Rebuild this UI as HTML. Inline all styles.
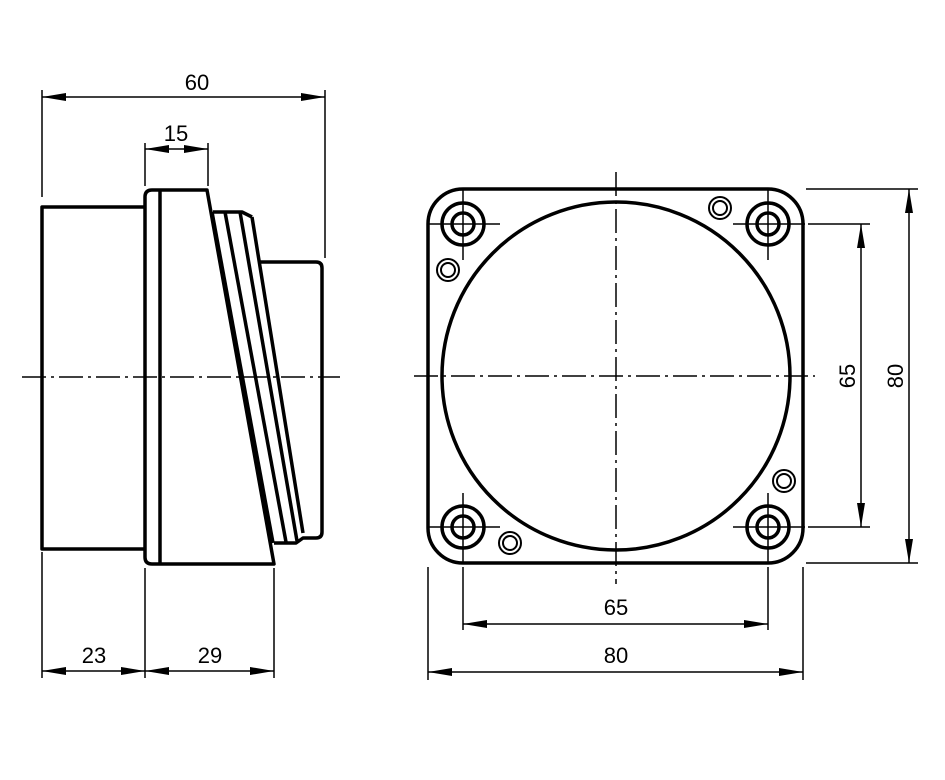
<!DOCTYPE html>
<html><head><style>body{margin:0;background:#fff}svg{display:block}text{font-family:"Liberation Sans",sans-serif;font-size:22px;fill:#000}</style></head>
<body>
<svg width="945" height="780" viewBox="0 0 945 780" xmlns="http://www.w3.org/2000/svg">
<defs>
<marker id="a" viewBox="0 0 24 8" refX="24" refY="4" markerWidth="24" markerHeight="8" markerUnits="userSpaceOnUse" orient="auto-start-reverse"><path d="M0,0 L24,4 L0,8 Z"/></marker>
</defs>
<g fill="none" stroke="#000">
<!-- centerlines -->
<g stroke-width="1.5" stroke-dasharray="24,5,3,5">
<line x1="22" y1="377" x2="340" y2="377"/>
<line x1="414" y1="376" x2="815" y2="376"/>
<line x1="616" y1="172" x2="616" y2="584"/>
</g>
<!-- left view -->
<g stroke-width="3.5" stroke-linejoin="round">
<path d="M145,207 H42 V549 H145"/>
<path d="M160,190 H152 Q145,190 145,197 V557 Q145,564 152,564 H160"/>
<line x1="160" y1="190" x2="160" y2="564"/>
<path d="M160,190 H207 L274,564 H160"/>
<path d="M213,212 H242 L252,217"/>
<line x1="212" y1="212" x2="273" y2="543"/>
<line x1="225" y1="212" x2="286" y2="542"/>
<line x1="240" y1="212" x2="297" y2="541"/>
<line x1="252" y1="217" x2="303" y2="533"/>
<path d="M274,543 H296 L303,538 H316 Q322,538 322,532 V268 Q322,262 316,262 H260"/>
</g>
<!-- right view -->
<g stroke-width="3.5">
<rect x="428" y="189" width="375" height="374" rx="35"/>
<circle cx="616" cy="376" r="174"/>
</g>
<g id="h" stroke-width="3.5">
<circle cx="463" cy="224" r="21"/>
<circle cx="463" cy="224" r="11"/>
<path d="M428,224 H500 M463,190 V260" stroke-width="1.5"/>
</g>
<use href="#h" transform="translate(305,0)"/>
<use href="#h" transform="translate(0,303)"/>
<use href="#h" transform="translate(305,303)"/>
<g stroke-width="2">
<circle cx="720" cy="208" r="11"/><circle cx="720" cy="208" r="7"/>
<circle cx="448" cy="270" r="11"/><circle cx="448" cy="270" r="7"/>
<circle cx="784" cy="481" r="11"/><circle cx="784" cy="481" r="7"/>
<circle cx="510" cy="543" r="11"/><circle cx="510" cy="543" r="7"/>
</g>
<!-- extension lines -->
<g stroke-width="1.5">
<line x1="42" y1="90" x2="42" y2="197"/>
<line x1="325" y1="90" x2="325" y2="258"/>
<line x1="145" y1="143" x2="145" y2="186"/>
<line x1="208" y1="143" x2="208" y2="186"/>
<line x1="42" y1="552" x2="42" y2="678"/>
<line x1="145" y1="568" x2="145" y2="678"/>
<line x1="274" y1="568" x2="274" y2="678"/>
<line x1="463" y1="567" x2="463" y2="630"/>
<line x1="768" y1="567" x2="768" y2="630"/>
<line x1="428" y1="567" x2="428" y2="680"/>
<line x1="803" y1="567" x2="803" y2="680"/>
<line x1="806" y1="189" x2="918" y2="189"/>
<line x1="806" y1="563" x2="918" y2="563"/>
<line x1="808" y1="224" x2="870" y2="224"/>
<line x1="808" y1="527" x2="870" y2="527"/>
</g>
<!-- dimension lines -->
<g stroke-width="1.5" marker-start="url(#a)" marker-end="url(#a)">
<line x1="42" y1="97" x2="325" y2="97"/>
<line x1="145" y1="149" x2="208" y2="149"/>
<line x1="42" y1="671" x2="145" y2="671"/>
<line x1="145" y1="671" x2="274" y2="671"/>
<line x1="463" y1="624" x2="768" y2="624"/>
<line x1="428" y1="672" x2="803" y2="672"/>
<line x1="861" y1="224" x2="861" y2="527"/>
<line x1="909" y1="189" x2="909" y2="563"/>
</g>
</g>
<g text-anchor="middle">
<text x="197" y="90">60</text>
<text x="176" y="141">15</text>
<text x="94" y="663">23</text>
<text x="210" y="663">29</text>
<text x="616" y="615">65</text>
<text x="616" y="663">80</text>
<text transform="translate(855,376) rotate(-90)">65</text>
<text transform="translate(903,376) rotate(-90)">80</text>
</g>
</svg>
</body></html>
